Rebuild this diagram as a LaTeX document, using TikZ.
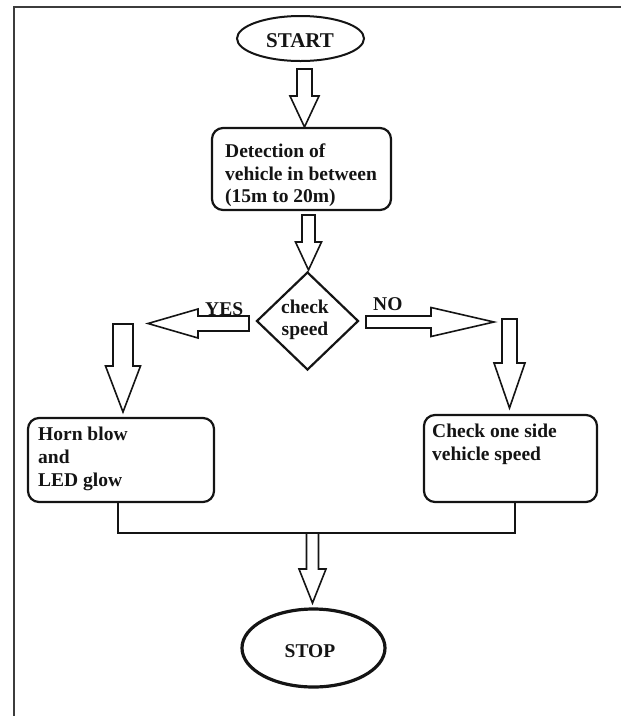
\documentclass[tikz,border=0pt]{standalone}
\usepackage{fontspec}
\setmainfont{Liberation Serif}
\usetikzlibrary{shapes.geometric}
\definecolor{ink}{HTML}{141414}
\definecolor{framec}{HTML}{3C3C3C}
\tikzset{
  boxst/.style={draw=ink, line width=2.2pt, rounded corners=11pt, inner sep=0pt},
  ovalst/.style={draw=ink, ellipse, inner sep=0pt},
  barrow/.style={draw=ink, line width=1.6pt, fill=white, line join=miter},
  txt/.style={inner sep=0pt, anchor=base west, text=ink, font=\fontsize{19.5}{23}\selectfont\bfseries},
  ctxt/.style={inner sep=0pt, anchor=base, text=ink, font=\fontsize{19.5}{23}\selectfont\bfseries},
  link/.style={draw=ink, line width=2.2pt}
}
\newcommand\bldown[6]{% x, ytop, yhead, ytip, shafthalf, headhalf
  \draw[barrow] ({#1-#5},#2) -- ({#1+#5},#2) -- ({#1+#5},#3) -- ({#1+#6},#3) -- (#1,#4) -- ({#1-#6},#3) -- ({#1-#5},#3) -- cycle;}
\newcommand\blhoriz[6]{% y, xtail, xhead, xtip, shafthalf, headhalf
  \draw[barrow] (#2,{#1-#5}) -- (#3,{#1-#5}) -- (#3,{#1-#6}) -- (#4,#1) -- (#3,{#1+#6}) -- (#3,{#1+#5}) -- (#2,{#1+#5}) -- cycle;}
\begin{document}
\begin{tikzpicture}[x=1pt,y=-1pt]
\useasboundingbox (0,0) rectangle (621,716);
% frame
\draw[framec, line width=2pt] (13.5,716) -- (13.5,7) -- (621,7);

% nodes
\node[ovalst, line width=2pt, minimum width=127pt, minimum height=45pt] (start) at (300.5,38.5) {};
\node[ctxt, font=\fontsize{21}{25}\selectfont\bfseries] (starttxt) at (300,47) {START};

\node[boxst, minimum width=179pt, minimum height=82pt] (det) at (301.5,169) {};
\node[txt] (det1) at (225,157) {Detection of};
\node[txt] (det2) at (225,180) {vehicle in between};
\node[txt] (det3) at (225,202) {(15m to 20m)};

\node[draw=ink, line width=2.2pt, diamond, inner sep=0pt, minimum width=102pt, minimum height=98pt] (dec) at (307.5,321) {};
\node[ctxt] (dec1) at (305,313) {check};
\node[ctxt] (dec2) at (305,335) {speed};

\node[boxst, minimum width=186pt, minimum height=84pt] (horn) at (121,460) {};
\node[txt] (horn1) at (38,440) {Horn blow};
\node[txt] (horn2) at (38,463) {and};
\node[txt] (horn3) at (38,486) {LED glow};

\node[boxst, minimum width=173pt, minimum height=87pt] (chk) at (510.5,458.5) {};
\node[txt] (chk1) at (432,437) {Check one side};
\node[txt] (chk2) at (432,460) {vehicle speed};

\node[ovalst, line width=3.2pt, minimum width=143pt, minimum height=78pt] (stop) at (313.5,648) {};
\node[ctxt] (stoptxt) at (310,657) {STOP};

% join lines
\coordinate (jl) at (118,533);
\coordinate (jr) at (515,533);
\draw[link] (horn.south -| jl) -- (jl) -- (jr) -- (chk.south -| jr);

% block arrows
\bldown{304.5}{69}{96}{127}{7.5}{14.5}
\bldown{308.5}{215}{242}{270}{6.5}{13}
\blhoriz{323.5}{249}{198}{148}{7.5}{14.5}
\blhoriz{322}{366}{431}{494}{6}{14.5}
\bldown{123}{324}{366}{412}{10}{17.5}
\bldown{509.5}{319}{363}{408}{7.5}{15.5}
\bldown{312.5}{533}{569}{603}{6}{13.5}

% arrow labels
\node[txt] (yes) at (205,315) {YES};
\node[txt] (no) at (373,310) {NO};
\end{tikzpicture}
\end{document}
